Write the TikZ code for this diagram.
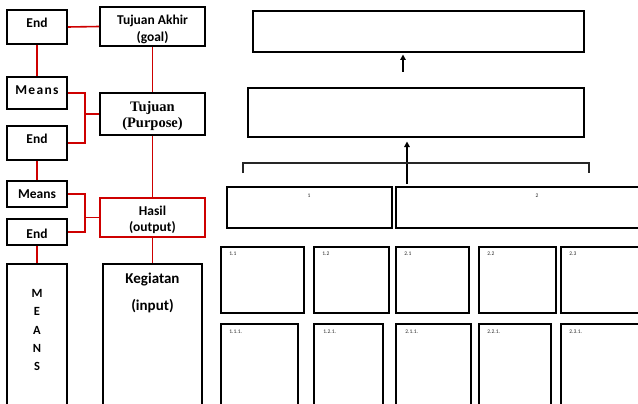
\documentclass[tikz,border=0pt]{standalone}
\usepackage{fontspec}
\setmainfont{Carlito}
\newfontfamily\timesf{Liberation Serif}
\usetikzlibrary{arrows.meta}
\definecolor{lred}{RGB}{206,0,0}
\begin{document}
\begin{tikzpicture}[x=1pt,y=-1pt,
  bx/.style={draw=black,line width=1.6pt,inner sep=0pt,fill=white},
  rbx/.style={draw=lred,line width=1.6pt,inner sep=0pt,fill=white},
  rl/.style={draw=lred,line width=1.6pt},
  gbox/.style={draw=black,line width=1.5pt,inner sep=0pt},
  tx/.style={anchor=base,inner sep=0pt,font=\bfseries\fontsize{13.5}{15}\selectfont},
  sm/.style={anchor=base west,inner sep=0pt,text=black!85,font=\fontsize{5.5}{6}\selectfont},
  arr/.style={line width=1.3pt,-{Triangle[length=5.5pt,width=5.5pt]}}]
\clip (0,0) rectangle (638,404);
\fill[white] (0,0) rectangle (638,404);
% ---------- left column ----------
\node[bx,minimum width=60,minimum height=34] (end1) at (37,27) {};
\node[bx,minimum width=105,minimum height=39] (tja) at (152.5,26.5) {};
\node[bx,minimum width=60,minimum height=32] (means1) at (37,93) {};
\node[bx,minimum width=105,minimum height=42] (tuj) at (152.5,114) {};
\node[bx,minimum width=60,minimum height=34] (end2) at (37,143) {};
\node[bx,minimum width=60,minimum height=26] (means2) at (37,194) {};
\node[bx,minimum width=60,minimum height=26] (end3) at (37,232) {};
\node[rbx,minimum width=105,minimum height=39] (hasil) at (152.5,217.5) {};
\node[bx,minimum width=60,minimum height=156] (meansbox) at (37,342) {};
\node[bx,minimum width=99,minimum height=156] (keg) at (152.5,342) {};
% red connectors
\draw[rl] (end1.east) -- (tja.west);
\draw[rl] (end1.south) -- (means1.north);
\draw[rl] (tja.south) -- (tuj.north);
\draw[rl] (means1.east) -- ++(17,0) |- (end2.east);
\coordinate (br1) at (84,114);
\draw[rl] (br1) -- (tuj.west);
\draw[rl] (end2.south) -- (means2.north);
\draw[rl] (tuj.south) -- (hasil.north);
\draw[rl] (means2.east) -- ++(17,0) |- (end3.east);
\coordinate (br2) at (84,217.5);
\draw[rl] (br2) -- (hasil.west);
\draw[rl] (end3.south) -- (meansbox.north);
\draw[rl] (hasil.south) -- (keg.north);
% texts
\node[tx] (t-end1) at (37,28) {End};
\node[tx] (t-tja1) at (152.5,25) {Tujuan Akhir};
\node[tx] (t-tja2) at (152.5,42) {(goal)};
\node[tx] (t-means1) at (37,95) {\addfontfeature{LetterSpace=10}Means};
\node[tx,font=\timesf\bfseries\fontsize{14.5}{16}\selectfont] (t-tuj1) at (152.5,112) {Tujuan};
\node[tx,font=\timesf\bfseries\fontsize{14.5}{16}\selectfont] (t-tuj2) at (152.5,127.5) {(Purpose)};
\node[tx] (t-end2) at (37,143) {End};
\node[tx] (t-means2) at (37,198) {Means};
\node[tx] (t-end3) at (37,238) {End};
\node[tx,font=\bfseries\fontsize{13.5}{15}\selectfont] (t-hasil1) at (152.5,215) {Hasil};
\node[tx,font=\bfseries\fontsize{13.5}{15}\selectfont] (t-hasil2) at (152.5,231) {(output)};
\node[tx,font=\bfseries\fontsize{15}{17}\selectfont] (t-keg1) at (152.5,283) {Kegiatan};
\node[tx,font=\bfseries\fontsize{15}{17}\selectfont] (t-keg2) at (152.5,310.5) {(input)};
\node[tx,font=\bfseries\fontsize{12.5}{14}\selectfont] (t-m) at (37,297) {M};
\node[tx,font=\bfseries\fontsize{12.5}{14}\selectfont] (t-e) at (37,315) {E};
\node[tx,font=\bfseries\fontsize{12.5}{14}\selectfont] (t-a) at (37,334) {A};
\node[tx,font=\bfseries\fontsize{12.5}{14}\selectfont] (t-n) at (37,352) {N};
\node[tx,font=\bfseries\fontsize{12.5}{14}\selectfont] (t-s) at (37,370) {S};
% ---------- right part ----------
\node[gbox,minimum width=331,minimum height=41] (top) at (418.5,31.5) {};
\node[gbox,minimum width=336,minimum height=49] (mid) at (416,112.5) {};
\node[gbox,minimum width=165,minimum height=41] (b1) at (309.5,207.5) {};
\node[gbox,minimum width=284,minimum height=41] (b2) at (538,207.5) {};
\node[sm,anchor=base] (l1) at (309,197) {1};
\node[sm,anchor=base] (l2) at (537,197) {2};
\coordinate (a1s) at (403,72);
\coordinate (a1e) at (403,54.5);
\draw[arr] (a1s) -- (a1e);
\coordinate (a2s) at (407,184);
\coordinate (a2e) at (407,141.5);
\draw[arr] (a2s) -- (a2e);
\coordinate (bl) at (243,173);
\coordinate (br) at (589,173);
\draw[line width=1.2pt,black!85] (bl) -- ++(0,-10) -| (br);
% row 1
\node[gbox,minimum width=83,minimum height=66] (b11) at (262.5,280) {};
\node[gbox,minimum width=75,minimum height=66] (b12) at (351.5,280) {};
\node[gbox,minimum width=73,minimum height=66] (b21) at (432.5,280) {};
\node[gbox,minimum width=77,minimum height=66] (b22) at (517.5,280) {};
\node[gbox,minimum width=99,minimum height=66] (b23) at (610.5,280) {};
\node[sm] (l11) at ([xshift=9pt,yshift=-9pt]b11.north west) {1.1};
\node[sm] (l12) at ([xshift=9pt,yshift=-9pt]b12.north west) {1.2};
\node[sm] (l21) at ([xshift=9pt,yshift=-9pt]b21.north west) {2.1};
\node[sm] (l22) at ([xshift=9pt,yshift=-9pt]b22.north west) {2.2};
\node[sm] (l23) at ([xshift=9pt,yshift=-9pt]b23.north west) {2.3};
% row 2
\node[gbox,minimum width=77,minimum height=96] (b111) at (259.5,372) {};
\node[gbox,minimum width=69,minimum height=96] (b121) at (348.5,372) {};
\node[gbox,minimum width=75,minimum height=96] (b211) at (433.5,372) {};
\node[gbox,minimum width=72,minimum height=96] (b221) at (515,372) {};
\node[gbox,minimum width=99,minimum height=96] (b231) at (610.5,372) {};
\node[sm] (l111) at ([xshift=9pt,yshift=-10pt]b111.north west) {1.1.1.};
\node[sm] (l121) at ([xshift=10pt,yshift=-10pt]b121.north west) {1.2.1.};
\node[sm] (l211) at ([xshift=10pt,yshift=-10pt]b211.north west) {2.1.1.};
\node[sm] (l221) at ([xshift=9pt,yshift=-10pt]b221.north west) {2.2.1.};
\node[sm] (l231) at ([xshift=9pt,yshift=-10pt]b231.north west) {2.3.1.};
\end{tikzpicture}
\end{document}
